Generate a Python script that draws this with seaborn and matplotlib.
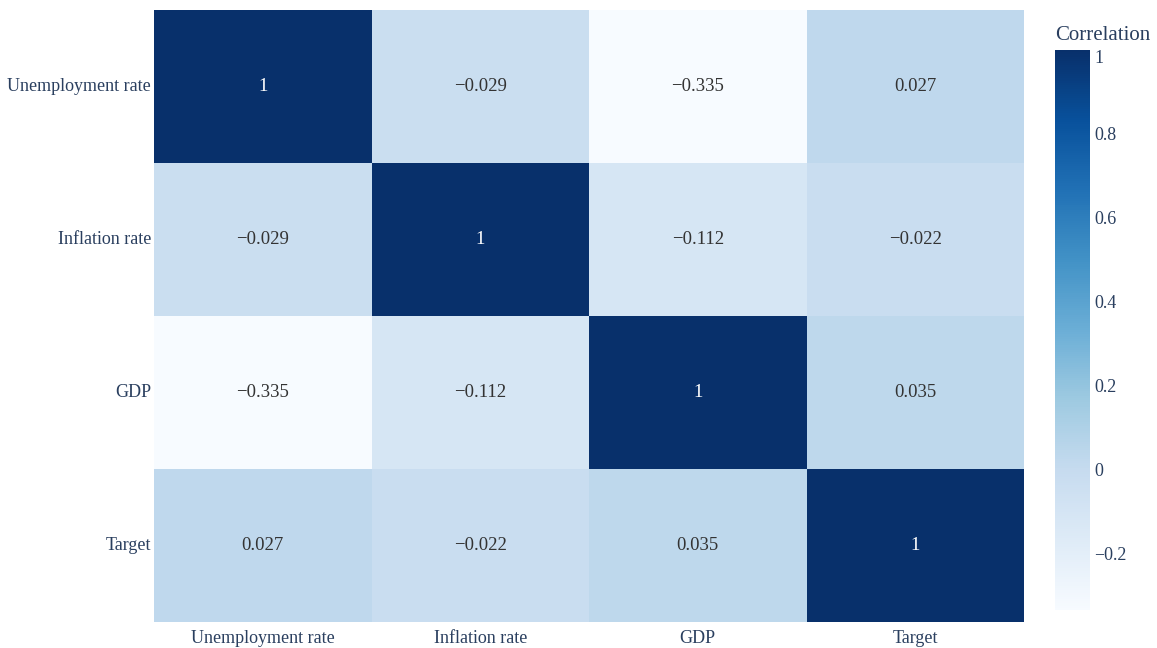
import numpy as np
import pandas as pd
import seaborn as sb
from matplotlib import pyplot as plt
from matplotlib.ticker import FuncFormatter

# data
labels = ["Unemployment rate", "Inflation rate", "GDP", "Target"]
row_unemp = [1.0, -0.029, -0.335, 0.027]
row_infl = [-0.029, 1.0, -0.112, -0.022]
row_gdp = [-0.335, -0.112, 1.0, 0.035]
row_target = [0.027, -0.022, 0.035, 1.0]
cbar_ticks = [-0.2, 0, 0.2, 0.4, 0.6, 0.8, 1]

corr = pd.DataFrame([row_unemp, row_infl, row_gdp, row_target], index=labels, columns=labels)

def fmt_val(v):
	s = "%g" % v
	return s.replace("-", "\u2212")

annot = np.array([[fmt_val(v) for v in row] for row in corr.values])

sb.set_theme(style="white")
plt.rcParams["font.family"] = ["Liberation Serif", "DejaVu Serif"]
text_col = "#2a3f5f"

fig = plt.figure(figsize=(11.57, 6.48), dpi=100)
W, H = 1157, 648
ax = fig.add_axes([154 / W, (H - 622) / H, 870 / W, 612 / H])
cax = fig.add_axes([1055 / W, (H - 610) / H, 35 / W, 560 / H])

sb.heatmap(corr, ax=ax, cbar_ax=cax, cmap="Blues", vmin=corr.values.min(), vmax=1,
	annot=annot, fmt="", annot_kws={"fontsize": 13.5}, linewidths=0)

ax.tick_params(axis="both", length=0, labelsize=13, colors=text_col)
ax.set_xticklabels(labels, rotation=0)
ax.set_yticklabels(labels, rotation=0)
ax.tick_params(axis="x", pad=6)
ax.tick_params(axis="y", pad=2)
ax.set_xlabel("")
ax.set_ylabel("")

# darker annotations on light cells
for t in ax.texts:
	if t.get_color() != "w" and t.get_color() != "white":
		t.set_color("#333333")

cbar = ax.collections[0].colorbar
cbar.set_ticks(cbar_ticks)
cbar.ax.yaxis.set_major_formatter(FuncFormatter(lambda v, p: fmt_val(round(v, 2))))
cbar.ax.tick_params(length=0, labelsize=13, colors=text_col, pad=3)
cbar.outline.set_visible(False)
cax.set_title("Correlation", fontsize=15, color=text_col, loc="left", pad=7)

fig.canvas.draw()
cbar.ax.get_yticklabels()[-1].set_va("top")

fig.savefig("out.png", dpi=100)
